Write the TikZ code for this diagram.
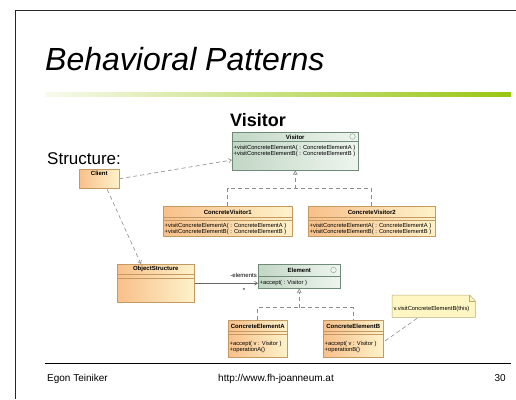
\documentclass[tikz,border=0pt]{standalone}
\usepackage{fontspec}
\setmainfont{Liberation Sans}
\usetikzlibrary{arrows.meta,calc,shadows}
\definecolor{orL}{HTML}{F8C08A}
\definecolor{orR}{HTML}{FEF2CA}
\definecolor{orD}{HTML}{C49A62}
\definecolor{grL}{HTML}{C2D7C5}
\definecolor{grR}{HTML}{EEF5EE}
\definecolor{grD}{HTML}{6F8A78}
\definecolor{conn}{HTML}{8C8C8C}
\definecolor{noteF}{HTML}{FFF6C4}
\definecolor{noteD}{HTML}{B4AC78}
\definecolor{barL}{HTML}{F7FAEC}
\definecolor{barR}{HTML}{98C612}
\tikzset{
  orcls/.style={draw=orD, line width=0.5pt, left color=orL, right color=orR, inner sep=0pt, anchor=north west,
    drop shadow={shadow xshift=0.8pt, shadow yshift=-0.8pt, opacity=0.18}},
  grcls/.style={draw=grD, line width=0.5pt, left color=grL, right color=grR, inner sep=0pt, anchor=north west,
    drop shadow={shadow xshift=0.8pt, shadow yshift=-0.8pt, opacity=0.18}},
  ctitle/.style={font=\bfseries\fontsize{6}{6}\selectfont, inner sep=0pt},
  cmeth/.style={font=\fontsize{5.8}{5.8}\selectfont, inner sep=0pt, anchor=base west},
  osep/.style={draw=orD, line width=0.4pt},
  gsep/.style={draw=grD, line width=0.4pt},
  dep/.style={draw=conn, line width=0.6pt, dash pattern=on 4pt off 3pt},
  assoc/.style={draw=black!60, line width=0.6pt},
  openarr/.style={-{Straight Barb[length=3pt,width=4pt]}},
  realarr/.style={-{Triangle[open,length=4pt,width=4.5pt]}},
  foot/.style={font=\fontsize{10}{10}\selectfont, inner sep=0pt},
  small/.style={font=\fontsize{6}{6}\selectfont, inner sep=0pt}
}
\begin{document}
\begin{tikzpicture}[x=1pt,y=-1pt]
\useasboundingbox (0,0) rectangle (516,399);
\fill[white] (0,0) rectangle (516,399);
\draw[line width=1.5pt, black!85] (516,10.5) -- (15.5,10.5) -- (15.5,399);
\node[anchor=base west, font=\itshape\fontsize{32}{32}\selectfont, inner sep=0pt] (title) at (45,70) {Behavioral Patterns};
\shade[left color=barL, right color=barR] (45,92) rectangle (511,96);
\node[font=\bfseries\fontsize{18}{18}\selectfont, inner sep=0pt, anchor=base] (vtitle) at (258,126) {Visitor};
\node[font=\fontsize{17}{17}\selectfont, inner sep=0pt, anchor=base west] (struct) at (47,164) {Structure:};

% Visitor
\node[grcls, minimum width=126pt, minimum height=38pt] (visitor) at (232,132) {};
\node[ctitle] (visitorT) at ($(visitor.north)+(0,5)$) {Visitor};
\draw[gsep] ($(visitor.north west)+(0,9)$) -- ($(visitor.north east)+(0,9)$);
\node[cmeth] (visitorM1) at ($(visitor.north west)+(1.5,17)$) {+visitConcreteElementA( : ConcreteElementA )};
\node[cmeth] (visitorM2) at ($(visitor.north west)+(1.5,23)$) {+visitConcreteElementB( : ConcreteElementB )};
\draw[grD!80, fill=grR, line width=0.4pt] ($(visitor.north east)+(-6,4.5)$) circle (2.8pt);

% Client
\node[orcls, minimum width=40pt, minimum height=19pt] (client) at (79,169) {};
\node[ctitle] (clientT) at ($(client.north)+(0,4.5)$) {Client};

% ConcreteVisitor1
\node[orcls, minimum width=129pt, minimum height=30pt] (cv1) at (163,206) {};
\node[ctitle] (cv1T) at ($(cv1.north)+(0,6.5)$) {ConcreteVisitor1};
\draw[osep] ($(cv1.north west)+(0,11)$) -- ($(cv1.north east)+(0,11)$);
\draw[osep] ($(cv1.north west)+(0,14.5)$) -- ($(cv1.north east)+(0,14.5)$);
\node[cmeth] (cv1M1) at ($(cv1.north west)+(1.5,21)$) {+visitConcreteElementA( : ConcreteElementA )};
\node[cmeth] (cv1M2) at ($(cv1.north west)+(1.5,27)$) {+visitConcreteElementB( : ConcreteElementB )};

% ConcreteVisitor2
\node[orcls, minimum width=127pt, minimum height=30pt] (cv2) at (308,206) {};
\node[ctitle] (cv2T) at ($(cv2.north)+(0,6.5)$) {ConcreteVisitor2};
\draw[osep] ($(cv2.north west)+(0,11)$) -- ($(cv2.north east)+(0,11)$);
\draw[osep] ($(cv2.north west)+(0,14.5)$) -- ($(cv2.north east)+(0,14.5)$);
\node[cmeth] (cv2M1) at ($(cv2.north west)+(1.5,21)$) {+visitConcreteElementA( : ConcreteElementA )};
\node[cmeth] (cv2M2) at ($(cv2.north west)+(1.5,27)$) {+visitConcreteElementB( : ConcreteElementB )};

% ObjectStructure
\node[orcls, minimum width=77pt, minimum height=38pt] (objs) at (117,264) {};
\node[ctitle] (objsT) at ($(objs.north)+(0,5)$) {ObjectStructure};
\draw[osep] ($(objs.north west)+(0,10.5)$) -- ($(objs.north east)+(0,10.5)$);
\draw[osep] ($(objs.north west)+(0,14.5)$) -- ($(objs.north east)+(0,14.5)$);

% Element
\node[grcls, minimum width=82pt, minimum height=24pt] (element) at (258,264) {};
\node[ctitle] (elementT) at ($(element.north)+(0,6)$) {Element};
\draw[gsep] ($(element.north west)+(0,12)$) -- ($(element.north east)+(0,12)$);
\node[cmeth] (elementM) at ($(element.north west)+(1.5,20)$) {+accept( : Visitor )};
\draw[grD!80, fill=grR, line width=0.4pt] ($(element.north east)+(-7,6)$) circle (2.8pt);

% ConcreteElementA
\node[orcls, minimum width=59pt, minimum height=37pt] (cea) at (228,320) {};
\node[ctitle] (ceaT) at ($(cea.north)+(0,6.5)$) {ConcreteElementA};
\draw[osep] ($(cea.north west)+(0,11)$) -- ($(cea.north east)+(0,11)$);
\draw[osep] ($(cea.north west)+(0,14.5)$) -- ($(cea.north east)+(0,14.5)$);
\node[cmeth] (ceaM1) at ($(cea.north west)+(1.5,25)$) {+accept( v : Visitor )};
\node[cmeth] (ceaM2) at ($(cea.north west)+(1.5,31)$) {+operationA()};

% ConcreteElementB
\node[orcls, minimum width=60pt, minimum height=37pt] (ceb) at (323,320) {};
\node[ctitle] (cebT) at ($(ceb.north)+(0,6.5)$) {ConcreteElementB};
\draw[osep] ($(ceb.north west)+(0,11)$) -- ($(ceb.north east)+(0,11)$);
\draw[osep] ($(ceb.north west)+(0,14.5)$) -- ($(ceb.north east)+(0,14.5)$);
\node[cmeth] (cebM1) at ($(ceb.north west)+(1.5,25)$) {+accept( v : Visitor )};
\node[cmeth] (cebM2) at ($(ceb.north west)+(1.5,31)$) {+operationB()};

% Note
\node[minimum width=83pt, minimum height=22pt, inner sep=0pt, anchor=north west] (note) at (392,295) {};
\draw[draw=noteD, fill=noteF, line width=0.5pt]
  (note.north west) -- ($(note.north east)+(-6,0)$) -- ($(note.north east)+(0,6)$) -- (note.south east) -- (note.south west) -- cycle;
\draw[draw=noteD, line width=0.4pt] ($(note.north east)+(-6,0)$) -- ($(note.north east)+(-6,6)$) -- ($(note.north east)+(0,6)$);
\node[small, font=\fontsize{5.8}{5.8}\selectfont, anchor=base west] (noteT) at ($(note.north west)+(1.5,15)$) {v.visitConcreteElementB(this)};

% Connectors
\draw[dep, openarr] (client.east) -- ($(visitor.north west)+(0,28)$);
\draw[dep, openarr] ($(client.south)+(8,1)$) -- ($(objs.north west)+(24,0)$);
\coordinate (vj) at ($(visitor.south)+(0,18)$);
\draw[dep] (cv1.north) |- (vj) -| (cv2.north);
\draw[dep, realarr] (vj) -- (visitor.south);
\coordinate (ej) at ($(element.south)+(0,19)$);
\draw[dep] (cea.north) |- (ej) -| (ceb.north);
\draw[dep, realarr] (ej) -- (element.south);
\draw[assoc, openarr] (objs.east) -- (objs.east -| element.west);
\node[small, anchor=base east] (elemLab) at ($(element.south west)+(-1,-11)$) {-elements};
\node[small, anchor=base] (elemMul) at ($(element.south west)+(-14,4)$) {*};
\draw[dep] ($(note.south west)+(25,1)$) -- ($(ceb.north east)+(0,22)$);

% Footer
\draw[line width=1.2pt] (45,363.5) -- (511,363.5);
\node[foot, anchor=base west] (footL) at (47,381) {Egon Teiniker};
\node[foot, anchor=base] (footC) at (276,381) {http://www.fh-joanneum.at};
\node[foot, anchor=base east] (footR) at (506,381) {30};
\end{tikzpicture}
\end{document}
